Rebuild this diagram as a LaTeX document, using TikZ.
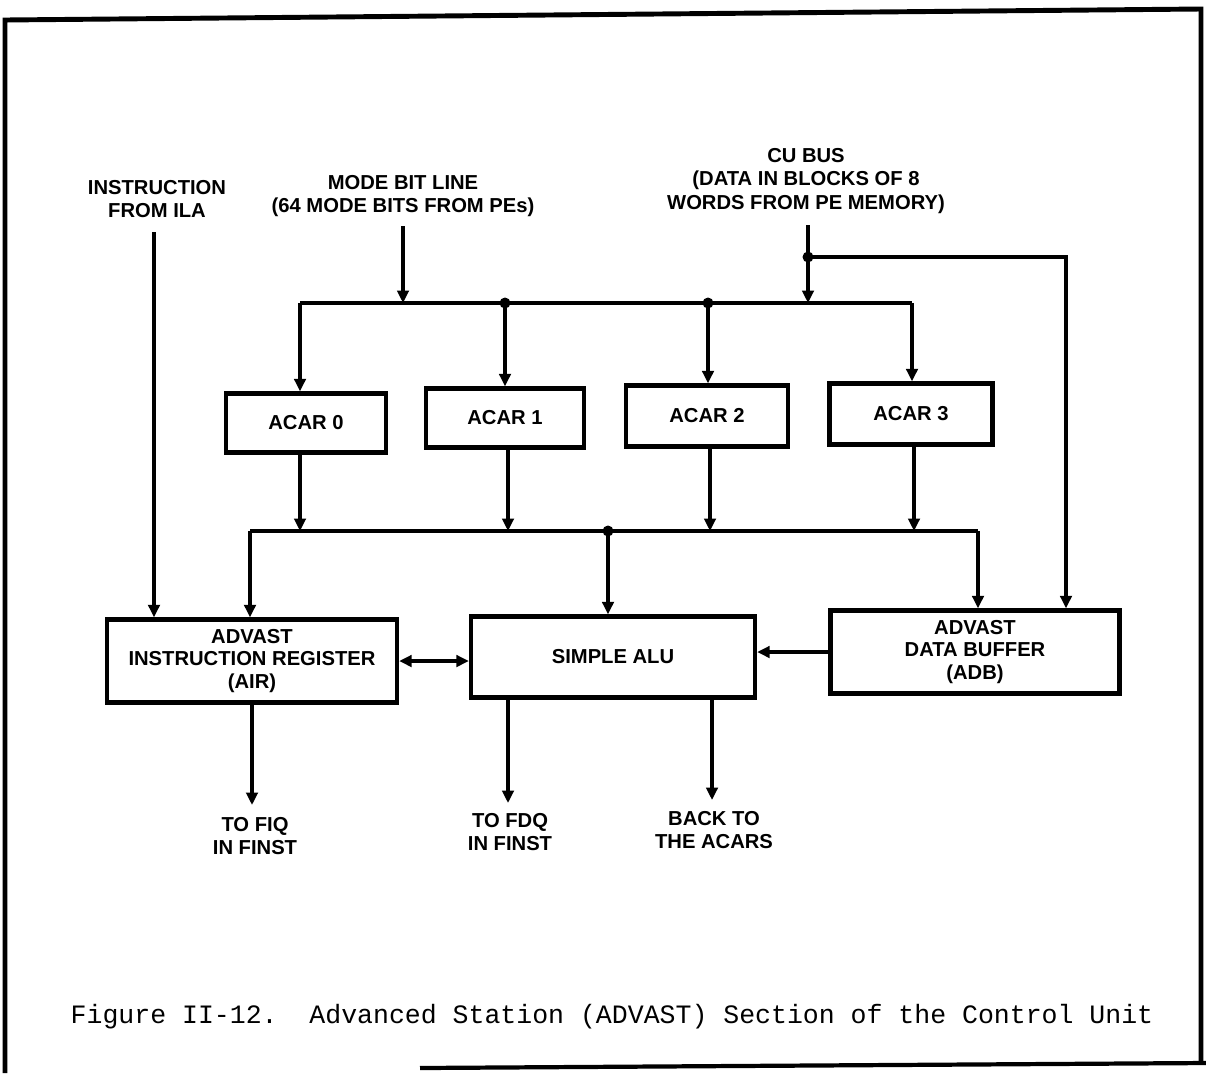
\documentclass[tikz,border=0pt]{standalone}
\usepackage{fontspec}
\setmainfont{Liberation Sans}
\newfontfamily\capfont{Liberation Mono}
\usetikzlibrary{arrows.meta}
\begin{document}
\begin{tikzpicture}[x=0.02cm,y=-0.02cm,
  lbl/.style={font=\fontsize{11.5}{13.6}\selectfont\bfseries, align=center, inner sep=0pt},
  blk/.style={draw, line width=2.5pt, font=\fontsize{11.5}{12.6}\selectfont\bfseries, align=center, inner sep=0pt},
  wire/.style={line width=1.9pt},
  tip/.tip={Triangle[length=0.25cm,width=0.23cm]},
  arr/.style={wire, -tip},
  biarr/.style={wire, tip-tip},
  dot/.style={circle, fill, inner sep=0pt, minimum size=0.22cm},
]
\useasboundingbox (0,0) rectangle (1206,1073);

% page frame
\draw[line width=2.8pt] (5,1073) -- (5,20) -- (1201,9) -- (1201,1064);
\draw[line width=2.4pt] (420,1068) -- (1206,1063);

% incoming signal labels
\node[lbl] (ila) at (157,199) {INSTRUCTION\\FROM ILA};
\node[lbl] (mode) at (403,196) {MODE BIT LINE\\(64 MODE BITS FROM PEs)};
\node[lbl] (cubus) at (806,181) {CU BUS\\(DATA IN BLOCKS OF 8\\WORDS FROM PE MEMORY)};

% ACAR registers
\node[blk, minimum width=3.2cm, minimum height=1.18cm] (acar0) at (306,423) {ACAR 0};
\node[blk, minimum width=3.16cm, minimum height=1.18cm] (acar1) at (505,418) {ACAR 1};
\node[blk, minimum width=3.24cm, minimum height=1.22cm] (acar2) at (707,416) {ACAR 2};
\node[blk, minimum width=3.26cm, minimum height=1.22cm] (acar3) at (911,414) {ACAR 3};

% lower row of units
\node[blk, minimum width=5.8cm, minimum height=1.66cm] (air) at (252,661) {ADVAST\\INSTRUCTION REGISTER\\(AIR)};
\node[blk, minimum width=5.68cm, minimum height=1.62cm] (alu) at (613,657) {SIMPLE ALU};
\node[blk, minimum width=5.78cm, minimum height=1.66cm] (adb) at (975,652) {ADVAST\\DATA BUFFER\\(ADB)};

% upper distribution bus
\coordinate (tbL) at (300,303);
\coordinate (tb1) at (505,303);
\coordinate (tb2) at (708,303);
\coordinate (tbR) at (912,303);
\draw[wire] (tbL) -- (tbR);
\draw[arr] (tbL) -- (tbL |- acar0.north);
\draw[arr] (tb1) -- (tb1 |- acar1.north);
\draw[arr] (tb2) -- (tb2 |- acar2.north);
\draw[arr] (tbR) -- (tbR |- acar3.north);
\node[dot] at (tb1) {};
\node[dot] at (tb2) {};

% mode bit line feed
\coordinate (m1) at (403,226);
\draw[arr] (m1) -- (m1 |- tbL);

% CU bus feed, with a branch to the data buffer
\coordinate (c1) at (808,225);
\coordinate (cj) at (808,257);
\coordinate (cr) at (1066,257);
\draw[arr] (c1) -- (c1 |- tbL);
\draw[arr] (cj) -- (cr) -- (cr |- adb.north);
\node[dot] at (cj) {};

% instruction feed
\coordinate (i1) at (154,232);
\draw[arr] (i1) -- (i1 |- air.north);

% lower collection bus
\coordinate (lbL) at (250,531);
\coordinate (lbM) at (608,531);
\coordinate (lbR) at (978,531);
\coordinate (o0) at (300,531);
\coordinate (o1) at (508,531);
\coordinate (o2) at (710,531);
\coordinate (o3) at (914,531);
\draw[wire] (lbL) -- (lbR);
\draw[arr] (o0 |- acar0.south) -- (o0);
\draw[arr] (o1 |- acar1.south) -- (o1);
\draw[arr] (o2 |- acar2.south) -- (o2);
\draw[arr] (o3 |- acar3.south) -- (o3);
\draw[arr] (lbL) -- (lbL |- air.north);
\draw[arr] (lbM) -- (lbM |- alu.north);
\draw[arr] (lbR) -- (lbR |- adb.north);
\node[dot] at (lbM) {};

% links between the units
\draw[biarr] (air.east) -- (air.east -| alu.west);
\draw[arr] (adb.west) -- (adb.west -| alu.east);

% outputs
\coordinate (f1) at (252,805);
\coordinate (f2) at (508,803);
\coordinate (f3) at (712,800);
\draw[arr] (air.south) -- (f1);
\draw[arr] (f2 |- alu.south) -- (f2);
\draw[arr] (f3 |- alu.south) -- (f3);
\node[lbl] (fiq) at (255,836) {TO FIQ\\IN FINST};
\node[lbl] (fdq) at (510,832) {TO FDQ\\IN FINST};
\node[lbl] (back) at (714,830) {BACK TO\\THE ACARS};

% caption
\node[font=\capfont\fontsize{15.1}{18}\selectfont, anchor=base, inner sep=0pt] (cap) at (612,1023)
  {Figure II-12.\ \ Advanced Station (ADVAST) Section of the Control Unit};
\end{tikzpicture}
\end{document}
